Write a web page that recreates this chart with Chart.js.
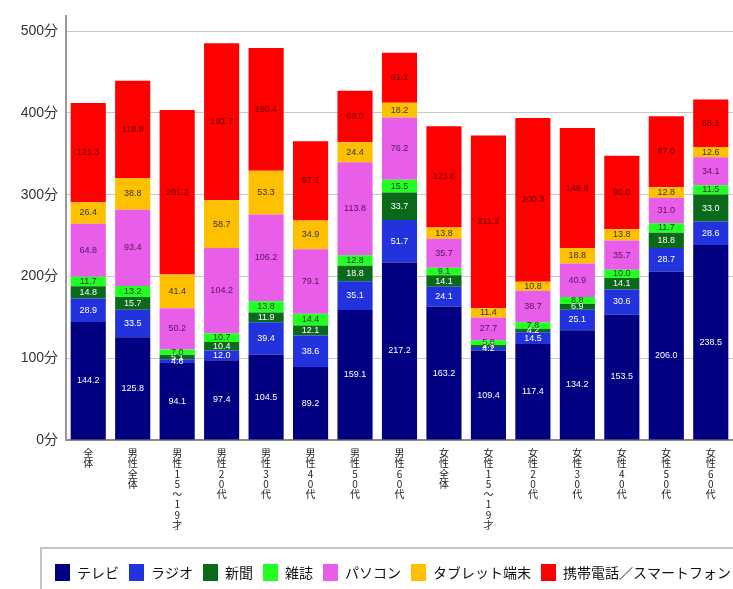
<!DOCTYPE html>
<html>
<head>
<meta charset="utf-8">
<script src="https://cdn.jsdelivr.net/npm/chart.js@4.4.1/dist/chart.umd.min.js"></script>
<style>
  html, body { margin: 0; padding: 0; background: #fff; overflow: hidden; }
  #wrap { width: 733px; height: 589px; position: relative; }
</style>
</head>
<body>
<div id="wrap"><canvas id="chart"></canvas></div>
<script>
const categories = [
  "全体", "男性全体", "男性15～19才", "男性20代", "男性30代", "男性40代", "男性50代", "男性60代",
  "女性全体", "女性15～19才", "女性20代", "女性30代", "女性40代", "女性50代", "女性60代",
];

const tv = [144.2, 125.8, 94.1, 97.4, 104.5, 89.2, 159.1, 217.2, 163.2, 109.4, 117.4, 134.2, 153.5, 206.0, 238.5];
const radio = [28.9, 33.5, 4.6, 12.0, 39.4, 38.6, 35.1, 51.7, 24.1, 4.2, 14.5, 25.1, 30.6, 28.7, 28.6];
const newspaper = [14.8, 15.7, 5.1, 10.4, 11.9, 12.1, 18.8, 33.7, 14.1, 2.7, 4.2, 6.9, 14.1, 18.8, 33.0];
const magazine = [11.7, 13.2, 7.0, 10.7, 13.8, 14.4, 12.8, 15.5, 9.1, 5.8, 7.8, 8.8, 10.0, 11.7, 11.5];
const pc = [64.8, 93.4, 50.2, 104.2, 106.2, 79.1, 113.8, 76.2, 35.7, 27.7, 38.7, 40.9, 35.7, 31.0, 34.1];
const tablet = [26.4, 38.8, 41.4, 58.7, 53.3, 34.9, 24.4, 18.2, 13.8, 11.4, 10.8, 18.8, 13.8, 12.8, 12.6];
const mobile = [121.3, 118.9, 201.2, 191.7, 150.4, 97.1, 63.0, 61.1, 123.8, 211.2, 200.3, 146.8, 90.0, 87.0, 58.1];

const yTicks = [0, 100, 200, 300, 400, 500];

const seriesNames = ["テレビ", "ラジオ", "新聞", "雑誌", "パソコン", "タブレット端末", "携帯電話／スマートフォン"];
const seriesData = [tv, radio, newspaper, magazine, pc, tablet, mobile];
const seriesColors = ["#000080", "#2233dd", "#0a6a1a", "#22ff22", "#e85ee8", "#ffc000", "#ff0000"];
const labelColors = ["#ffffff", "#ffffff", "#ffffff", "#333333", "#5a1060", "#333333", "#5a0000"];

const jpFont = '"Noto Sans CJK JP", sans-serif';

// values drawn in the middle of each segment
const valueLabels = {
  id: "valueLabels",
  afterDatasetsDraw(chart) {
    const ctx = chart.ctx;
    ctx.save();
    ctx.font = '9px "Liberation Sans", sans-serif';
    ctx.textAlign = "center";
    ctx.textBaseline = "middle";
    chart.data.datasets.forEach((ds, i) => {
      const meta = chart.getDatasetMeta(i);
      meta.data.forEach((bar, j) => {
        ctx.fillStyle = labelColors[i];
        ctx.fillText(ds.data[j].toFixed(1), bar.x, (bar.y + bar.base) / 2);
      });
    });
    ctx.restore();
  },
};

// legend box shifted right and framed like the original
const legendFrame = {
  id: "legendFrame",
  afterUpdate(chart) {
    const lg = chart.legend;
    lg.left = 45;
    lg.right = 2000;
    lg.top = 554;
  },
  beforeDraw(chart) {
    const ctx = chart.ctx;
    ctx.save();
    ctx.strokeStyle = "#c4c4c4";
    ctx.lineWidth = 2;
    ctx.strokeRect(41, 548, 800, 80);
    ctx.restore();
  },
};

new Chart(document.getElementById("chart"), {
  type: "bar",
  data: {
    labels: categories.map((c) => c.split("")),
    datasets: seriesNames.map((name, i) => ({
      label: name,
      data: seriesData[i],
      backgroundColor: seriesColors[i],
      barPercentage: 0.79,
      categoryPercentage: 1,
    })),
  },
  options: {
    responsive: true,
    maintainAspectRatio: false,
    animation: false,
    layout: { padding: { top: 5, right: 0, left: 0, bottom: 0 } },
    plugins: {
      tooltip: { enabled: false },
      legend: {
        position: "bottom",
        align: "start",
        labels: {
          boxWidth: 15,
          boxHeight: 17,
          padding: 10,
          color: "#111",
          font: { size: 14, family: jpFont },
        },
      },
    },
    scales: {
      x: {
        stacked: true,
        grid: { display: false },
        border: { display: true, color: "#888", width: 2 },
        ticks: {
          maxRotation: 0,
          minRotation: 0,
          autoSkip: false,
          padding: 0,
          color: "#222",
          font: { size: 10, family: jpFont, lineHeight: 1.03 },
        },
        afterFit(scale) {
          scale.height = 112;
        },
      },
      y: {
        stacked: true,
        min: 0,
        max: 518,
        grid: { color: "#c8c8c8", lineWidth: 1, drawTicks: false },
        border: { display: true, color: "#999", width: 2 },
        ticks: {
          stepSize: 100,
          padding: 8,
          color: "#333",
          font: { size: 14, family: '"Liberation Sans", "Noto Sans CJK JP", sans-serif' },
          callback: (v) => v + "分",
        },
        afterBuildTicks(scale) {
          scale.ticks = yTicks.map((v) => ({ value: v }));
        },
        afterFit(scale) {
          scale.width = 66;
        },
      },
    },
  },
  plugins: [valueLabels, legendFrame],
});
</script>
</body>
</html>
